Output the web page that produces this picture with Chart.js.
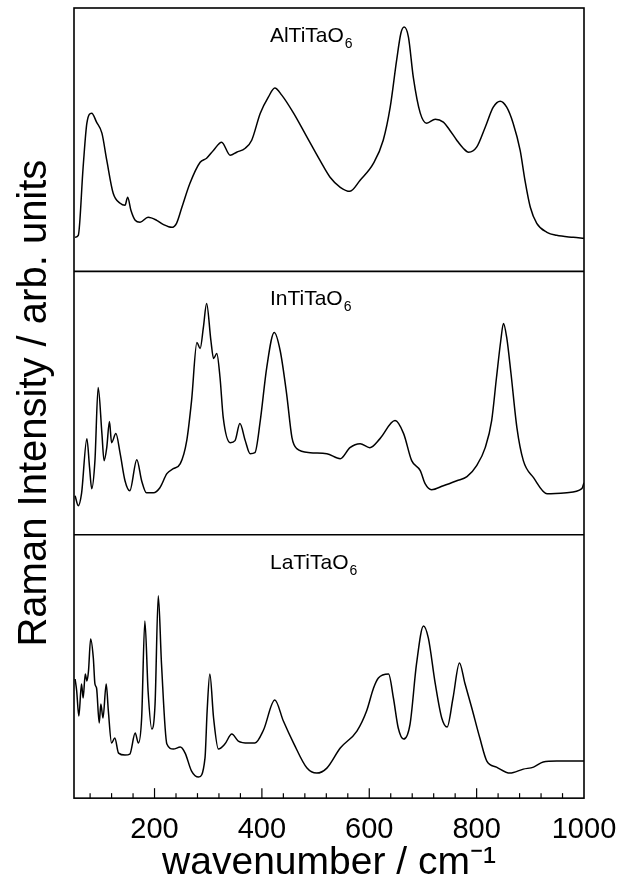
<!DOCTYPE html>
<html>
<head>
<meta charset="utf-8">
<script src="https://cdn.jsdelivr.net/npm/chart.js@4.4.0/dist/chart.umd.min.js"></script>
<style>
    html, body { margin: 0; padding: 0; background: #fff; }
    canvas { display: block; }
</style>
</head>
<body>
<canvas id="graph" width="627" height="882"></canvas>
<script>
// AlTiTaO6 (top panel)
const wavenumberAl = [52, 58, 67, 74, 83, 92, 102, 111, 123, 136, 145, 150, 156, 164, 173, 188, 204, 216, 232, 241,
    251, 266, 285, 297, 310, 325, 341, 353, 369, 381, 397, 412, 424, 437, 459, 484, 508, 527, 546, 564,
    583, 608, 626, 639, 651, 659, 665, 673, 682, 695, 707, 723, 738, 750, 763, 775, 785, 800, 816, 831,
    844, 856, 868, 881, 890, 900, 912, 931, 949, 980, 1000];
const intensityAl = [34, 36, 104, 148, 158, 149, 138, 111, 78, 68, 66, 74, 61, 51, 49, 54, 51, 47, 44, 48,
    64, 88, 109, 113, 121, 129, 116, 119, 123, 131, 158, 174, 183, 176, 158, 134, 111, 94, 84, 80,
    91, 108, 131, 164, 211, 238, 244, 234, 194, 158, 148, 152, 149, 141, 131, 123, 119, 124, 144, 164,
    170, 164, 148, 121, 91, 64, 48, 39, 36, 34, 33];

// InTiTaO6 (middle panel)
const wavenumberIn = [52, 58, 64, 74, 79, 83, 89, 95, 102, 106, 111, 116, 120, 128, 136, 145, 154, 167, 176, 185,
    198, 210, 223, 235, 248, 260, 269, 279, 285, 291, 297, 305, 310, 316, 322, 328, 341, 350, 359, 369,
    378, 387, 397, 409, 423, 434, 446, 456, 465, 490, 521, 546, 564, 583, 601, 620, 648, 664, 679, 695,
    704, 716, 738, 763, 782, 800, 816, 828, 837, 845, 850, 856, 864, 875, 887, 906, 931, 968, 996, 1000];
const intensityIn = [39, 29, 41, 96, 67, 46, 74, 147, 101, 74, 87, 113, 92, 101, 81, 54, 44, 75, 54, 42,
    42, 47, 61, 66, 71, 94, 134, 192, 186, 207, 231, 194, 176, 181, 157, 117, 92, 94, 111, 94,
    81, 82, 114, 167, 202, 184, 141, 97, 86, 82, 81, 76, 87, 91, 87, 96, 114, 101, 74, 64,
    51, 45, 49, 54, 58, 69, 87, 114, 157, 194, 211, 197, 161, 107, 74, 57, 41, 42, 46, 52];

// LaTiTaO6 (bottom panel)
const wavenumberLa = [52, 55, 59, 64, 67, 71, 74, 77, 81, 86, 89, 92, 97, 100, 104, 110, 114, 120, 126, 133,
    145, 154, 164, 170, 176, 182, 188, 195, 201, 207, 213, 223, 235, 248, 257, 269, 282, 294, 298, 303,
    310, 319, 331, 344, 356, 375, 387, 403, 424, 440, 459, 484, 502, 521, 546, 577, 595, 608, 617, 636,
    645, 654, 664, 676, 688, 701, 710, 723, 735, 745, 756, 768, 778, 791, 806, 819, 837, 862, 887, 906,
    924, 949, 1000];
const intensityLa = [119, 107, 82, 114, 100, 124, 117, 127, 159, 140, 114, 110, 75, 94, 80, 114, 87, 55, 60, 45,
    43, 44, 65, 55, 80, 177, 107, 69, 94, 202, 134, 54, 49, 51, 45, 27, 21, 40, 87, 124,
    80, 49, 54, 64, 57, 55, 55, 68, 98, 77, 55, 30, 25, 30, 50, 67, 87, 110, 120, 124,
    100, 70, 59, 74, 134, 172, 160, 114, 80, 71, 100, 135, 115, 90, 60, 37, 31, 25, 29, 31,
    36, 37, 37];

const panelNames = ["AlTiTaO", "InTiTaO", "LaTiTaO"];
const xTickLabels = [200, 400, 600, 800, 1000];

const FONT = "'Liberation Sans', Arial, Helvetica, sans-serif";

const toPoints = (xs, ys) => xs.map((x, i) => ({x: x, y: ys[i]}));

function panelAxis(weight, title) {
    return {
        type: "linear",
        position: "left",
        stack: "panels",
        stackWeight: 1,
        weight: weight,
        min: 0,
        max: 263,
        ticks: {display: false},
        grid: {display: false, drawTicks: false},
        border: {display: false},
        title: title ? {
            display: true,
            text: title,
            color: "#000",
            font: {family: FONT, size: 40, lineHeight: 1},
            padding: {top: 15, bottom: 19}
        } : {display: false}
    };
}

// frame, panel dividers, inward ticks and the compound labels
const framePlugin = {
    id: "frame",
    afterDatasetsDraw(chart) {
        const {ctx, chartArea: {left, right, top, bottom}, scales} = chart;
        ctx.save();
        ctx.strokeStyle = "#000";
        ctx.lineWidth = 1.6;
        ctx.strokeRect(left, top, right - left, bottom - top);
        [scales.yIn.top, scales.yLa.top].forEach(y => {
            ctx.beginPath();
            ctx.moveTo(left, y);
            ctx.lineTo(right, y);
            ctx.stroke();
        });

        ctx.lineWidth = 1.2;
        for (let v = 80; v < 1000; v += 40) {
            const x = scales.x.getPixelForValue(v);
            const len = v % 200 === 0 ? 10 : 5;
            ctx.beginPath();
            ctx.moveTo(x, bottom);
            ctx.lineTo(x, bottom - len);
            ctx.stroke();
        }

        ctx.fillStyle = "#000";
        ctx.textAlign = "left";
        ctx.textBaseline = "alphabetic";
        ["yAl", "yIn", "yLa"].forEach((id, i) => {
            const x0 = scales.x.getPixelForValue(415);
            const y0 = scales[id].top + 34;
            ctx.font = "21px " + FONT;
            ctx.fillText(panelNames[i], x0, y0);
            const w = ctx.measureText(panelNames[i]).width;
            ctx.font = "14px " + FONT;
            ctx.fillText("6", x0 + w + 1, y0 + 6);
        });
        ctx.restore();
    }
};

const canvas = document.querySelector("#graph");

const datasetStyle = {
    borderColor: "#000",
    borderWidth: 1.5,
    pointRadius: 0,
    fill: false,
    cubicInterpolationMode: "monotone"
};

new Chart(canvas, {
    type: "line",
    data: {
        datasets: [
            {label: "AlTiTaO6", data: toPoints(wavenumberAl, intensityAl), yAxisID: "yAl", ...datasetStyle},
            {label: "InTiTaO6", data: toPoints(wavenumberIn, intensityIn), yAxisID: "yIn", ...datasetStyle},
            {label: "LaTiTaO6", data: toPoints(wavenumberLa, intensityLa), yAxisID: "yLa", ...datasetStyle}
        ]
    },
    options: {
        responsive: false,
        animation: false,
        layout: {padding: {left: 0, right: 43, top: 8, bottom: 0}},
        plugins: {
            legend: {display: false},
            tooltip: {enabled: false}
        },
        scales: {
            x: {
                type: "linear",
                position: "bottom",
                min: 50,
                max: 1000,
                afterBuildTicks: axis => {
                    axis.ticks = xTickLabels.map(v => ({value: v}));
                },
                grid: {display: false, drawTicks: false},
                border: {display: false},
                ticks: {
                    color: "#000",
                    font: {family: FONT, size: 29, lineHeight: 1.65},
                    padding: 8,
                    maxRotation: 0,
                    autoSkip: false,
                    callback: value => String(value)
                },
                title: {
                    display: true,
                    text: "wavenumber / cm⁻¹",
                    color: "#000",
                    font: {family: FONT, size: 39, lineHeight: 1},
                    padding: {top: -18, bottom: -1}
                }
            },
            yAl: panelAxis(3),
            yIn: panelAxis(2, "Raman Intensity / arb. units"),
            yLa: panelAxis(1)
        }
    },
    plugins: [framePlugin]
});
</script>
</body>
</html>
